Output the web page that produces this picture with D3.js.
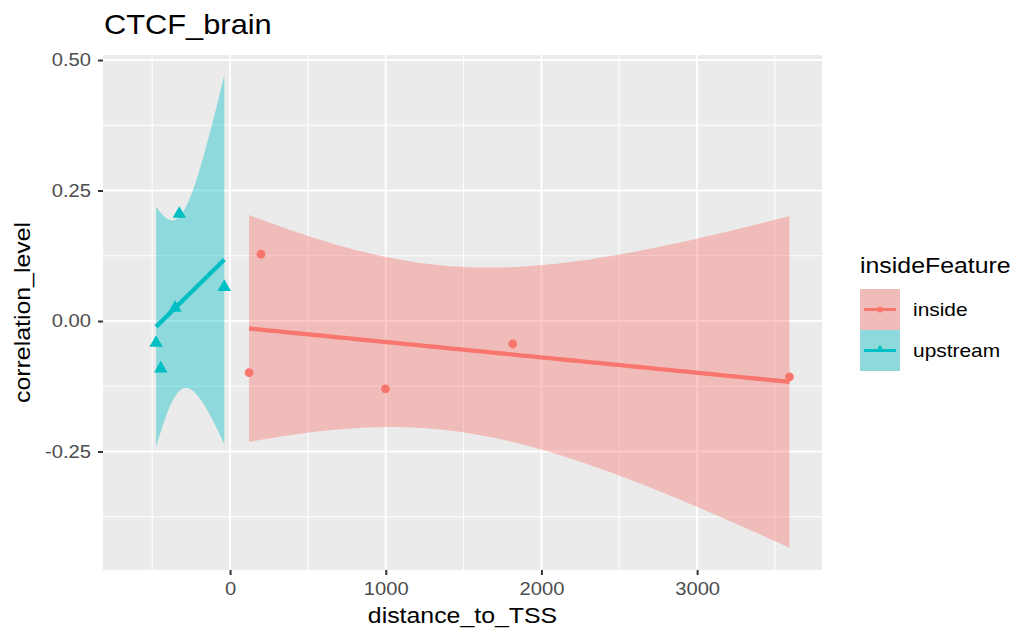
<!DOCTYPE html>
<html>
<head>
<meta charset="utf-8">
<script src="https://cdn.jsdelivr.net/npm/d3@7"></script>
<style>
  html, body { margin: 0; padding: 0; background: #ffffff; }
  svg text { font-family: "Liberation Sans", Arial, Helvetica, sans-serif; }
</style>
</head>
<body>
<svg id="chart" width="1019" height="634"></svg>
<script>
// Observations: distance to TSS vs correlation level, split by feature position
const insideDistance = [122, 199, 998, 1816, 3593];
const insideCorrelation = [-0.099, 0.128, -0.130, -0.044, -0.107];
const upstreamDistance = [-475, -445, -353, -326, -37];
const upstreamCorrelation = [-0.042, -0.091, 0.025, 0.205, 0.065];

const groupNames = ["inside", "upstream"];
const groupColors = ["#F8766D", "#00BFC4"];

const xTicks = [0, 1000, 2000, 3000];
const xMinor = [-500, 500, 1500, 2500, 3500];
const yTicks = [-0.25, 0.00, 0.25, 0.50];
const yMinor = [-0.375, -0.125, 0.125, 0.375];
const xLimits = [-816, 3802];
const yLimits = [-0.477, 0.5096];

const titleText = "CTCF_brain";
const xTitle = "distance_to_TSS";
const yTitle = "correlation_level";
const legendTitle = "insideFeature";

// two-sided 95% Student t quantile with n - 2 = 3 degrees of freedom
const T_975_DF3 = 3.182446;

const groups = [
  { name: groupNames[0], color: groupColors[0], xs: insideDistance, ys: insideCorrelation, shape: "circle" },
  { name: groupNames[1], color: groupColors[1], xs: upstreamDistance, ys: upstreamCorrelation, shape: "triangle" }
];

// ordinary least squares fit with a 95% confidence band for the mean
function lmBand(xs, ys, n = 80) {
  const k = xs.length;
  const mx = d3.mean(xs), my = d3.mean(ys);
  let sxx = 0, sxy = 0;
  xs.forEach((x, i) => { sxx += (x - mx) ** 2; sxy += (x - mx) * (ys[i] - my); });
  const b = sxy / sxx, a = my - b * mx;
  let sse = 0;
  xs.forEach((x, i) => { sse += (ys[i] - (a + b * x)) ** 2; });
  const s = Math.sqrt(sse / (k - 2));
  const [x0, x1] = d3.extent(xs);
  return d3.range(n).map(i => {
    const x = x0 + (x1 - x0) * i / (n - 1);
    const fit = a + b * x;
    const se = s * Math.sqrt(1 / k + (x - mx) ** 2 / sxx);
    return { x, fit, lo: fit - T_975_DF3 * se, hi: fit + T_975_DF3 * se };
  });
}

// widen glyphs along the text direction
function widen(sel, k) {
  sel.each(function () {
    const len = this.getComputedTextLength();
    d3.select(this).attr("textLength", len * k).attr("lengthAdjust", "spacingAndGlyphs");
  });
}

const svg = d3.select("#chart");
const panel = { left: 103, right: 822, top: 55, bottom: 570 };

const x = d3.scaleLinear().domain(xLimits).range([panel.left, panel.right]);
const y = d3.scaleLinear().domain(yLimits).range([panel.bottom, panel.top]);

// panel background
svg.append("rect")
  .attr("x", panel.left).attr("y", panel.top)
  .attr("width", panel.right - panel.left).attr("height", panel.bottom - panel.top)
  .attr("fill", "#EBEBEB");

// grid lines
const grid = svg.append("g");
grid.selectAll(".xminor").data(xMinor).join("line")
  .attr("x1", d => x(d)).attr("x2", d => x(d))
  .attr("y1", panel.top).attr("y2", panel.bottom)
  .attr("stroke", "#ffffff").attr("stroke-width", 1);
grid.selectAll(".yminor").data(yMinor).join("line")
  .attr("x1", panel.left).attr("x2", panel.right)
  .attr("y1", d => y(d)).attr("y2", d => y(d))
  .attr("stroke", "#ffffff").attr("stroke-width", 1);
grid.selectAll(".xmajor").data(xTicks).join("line")
  .attr("x1", d => x(d)).attr("x2", d => x(d))
  .attr("y1", panel.top).attr("y2", panel.bottom)
  .attr("stroke", "#ffffff").attr("stroke-width", 2);
grid.selectAll(".ymajor").data(yTicks).join("line")
  .attr("x1", panel.left).attr("x2", panel.right)
  .attr("y1", d => y(d)).attr("y2", d => y(d))
  .attr("stroke", "#ffffff").attr("stroke-width", 2);

const triangle = d3.symbol().type(d3.symbolTriangle).size(78);

// points
groups.forEach(g => {
  const pts = g.xs.map((xv, i) => ({ x: xv, y: g.ys[i] }));
  if (g.shape === "circle") {
    svg.append("g").selectAll("circle").data(pts).join("circle")
      .attr("cx", d => x(d.x)).attr("cy", d => y(d.y)).attr("r", 4.4)
      .attr("fill", g.color);
  } else {
    svg.append("g").selectAll("path").data(pts).join("path")
      .attr("transform", d => `translate(${x(d.x)},${y(d.y)})`)
      .attr("d", triangle).attr("fill", g.color);
  }
});

// smoothers: confidence ribbon and fitted line
groups.forEach(g => {
  const band = lmBand(g.xs, g.ys);
  svg.append("path").datum(band)
    .attr("d", d3.area().x(d => x(d.x)).y0(d => y(d.lo)).y1(d => y(d.hi)))
    .attr("fill", g.color).attr("fill-opacity", 0.4);
  svg.append("path").datum(band)
    .attr("d", d3.line().x(d => x(d.x)).y(d => y(d.fit)))
    .attr("fill", "none").attr("stroke", g.color).attr("stroke-width", 4.3);
});

// axes
const xAxis = svg.append("g")
  .attr("transform", `translate(0,${panel.bottom})`)
  .call(d3.axisBottom(x).tickValues(xTicks).tickSize(5).tickPadding(7).tickFormat(d => String(d)));
const yAxis = svg.append("g")
  .attr("transform", `translate(${panel.left},0)`)
  .call(d3.axisLeft(y).tickValues(yTicks).tickSize(5).tickPadding(7).tickFormat(d => d.toFixed(2)));
[xAxis, yAxis].forEach(ax => {
  ax.select(".domain").remove();
  ax.selectAll(".tick line").attr("stroke", "#333333").attr("stroke-width", 2);
  ax.selectAll(".tick text").attr("fill", "#4D4D4D").attr("font-size", 18)
    .attr("font-family", "'Liberation Sans', Arial, sans-serif");
  widen(ax.selectAll(".tick text"), 1.12);
});

// titles
svg.append("text").attr("x", 104).attr("y", 34)
  .attr("font-size", 28).attr("fill", "#000").text(titleText)
  .call(widen, 1.1);
svg.append("text").attr("x", (panel.left + panel.right) / 2).attr("y", 623)
  .attr("text-anchor", "middle").attr("font-size", 22).attr("fill", "#000").text(xTitle)
  .call(widen, 1.13);
svg.append("text")
  .attr("transform", `translate(30,${(panel.top + panel.bottom) / 2}) rotate(-90)`)
  .attr("text-anchor", "middle").attr("font-size", 22).attr("fill", "#000").text(yTitle)
  .call(widen, 1.13);

// legend
const legend = svg.append("g").attr("transform", "translate(860,0)");
legend.append("text").attr("x", 0).attr("y", 273)
  .attr("font-size", 22).attr("fill", "#000").text(legendTitle)
  .call(widen, 1.13);
groups.forEach((g, i) => {
  const top = 289 + i * 41;
  const row = legend.append("g").attr("transform", `translate(0,${top})`);
  row.append("rect").attr("x", 0).attr("y", 0).attr("width", 40).attr("height", 41).attr("fill", "#EBEBEB");
  row.append("rect").attr("x", 0).attr("y", 0).attr("width", 40).attr("height", 41)
    .attr("fill", g.color).attr("fill-opacity", 0.4);
  row.append("line").attr("x1", 4).attr("x2", 36).attr("y1", 20.5).attr("y2", 20.5)
    .attr("stroke", g.color).attr("stroke-width", 3);
  if (g.shape === "circle") {
    row.append("circle").attr("cx", 20).attr("cy", 20.5).attr("r", 3).attr("fill", g.color);
  } else {
    row.append("path").attr("transform", "translate(20,19.5)")
      .attr("d", d3.symbol().type(d3.symbolTriangle).size(30)).attr("fill", g.color);
  }
  row.append("text").attr("x", 53).attr("y", 27)
    .attr("font-size", 18.5).attr("fill", "#000").text(g.name)
    .call(widen, 1.13);
});
</script>
</body>
</html>
